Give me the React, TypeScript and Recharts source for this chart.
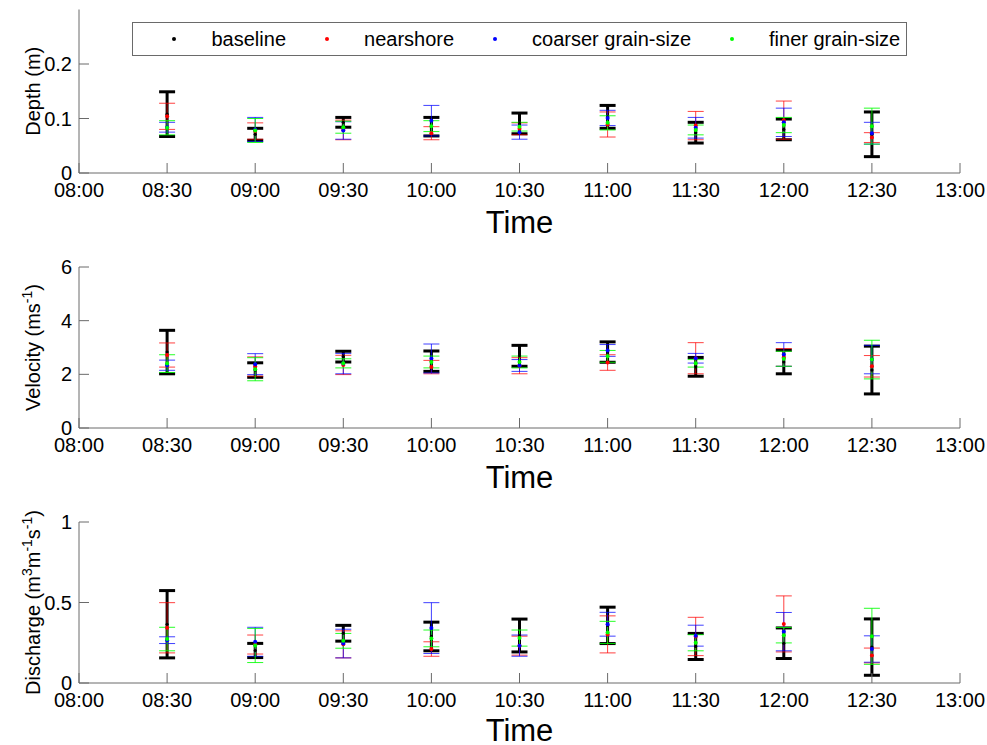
import React from 'react'
import { ScatterChart, Scatter, XAxis, YAxis, ErrorBar, Legend } from 'recharts'

const FONT = '"Liberation Sans", Arial, Helvetica, sans-serif'
const AXIS_COLOR = '#6a6a6a'

// sample times in minutes after midnight (08:30 ... 12:30)
const times = [510, 540, 570, 600, 630, 660, 690, 720, 750]
const xTicks = [480, 510, 540, 570, 600, 630, 660, 690, 720, 750, 780]
const xTickLabels = ['08:00', '08:30', '09:00', '09:30', '10:00', '10:30', '11:00', '11:30', '12:00', '12:30', '13:00']

const seriesNames = ['baseline', 'nearshore', 'coarser grain-size', 'finer grain-size']

// depth (m): mean and +/- spread
const depthBaseline = [0.108, 0.071, 0.093, 0.085, 0.091, 0.103, 0.074, 0.080, 0.071]
const depthBaselineErr = [0.041, 0.011, 0.009, 0.017, 0.019, 0.021, 0.019, 0.019, 0.041]
const depthNearshore = [0.104, 0.077, 0.079, 0.073, 0.081, 0.089, 0.087, 0.097, 0.065]
const depthNearshoreErr = [0.024, 0.015, 0.018, 0.012, 0.011, 0.023, 0.026, 0.035, 0.009]
const depthCoarser = [0.084, 0.080, 0.078, 0.096, 0.075, 0.101, 0.083, 0.093, 0.073]
const depthCoarserErr = [0.009, 0.022, 0.016, 0.028, 0.013, 0.014, 0.019, 0.026, 0.020]
const depthFiner = [0.083, 0.078, 0.084, 0.086, 0.085, 0.092, 0.079, 0.088, 0.086]
const depthFinerErr = [0.013, 0.022, 0.011, 0.010, 0.008, 0.013, 0.009, 0.014, 0.033]

// velocity (m/s)
const velBaseline = [2.83, 2.16, 2.66, 2.49, 2.69, 2.83, 2.28, 2.46, 2.16]
const velBaselineErr = [0.81, 0.27, 0.20, 0.38, 0.39, 0.38, 0.35, 0.44, 0.89]
const velNearshore = [2.72, 2.29, 2.35, 2.27, 2.32, 2.44, 2.60, 2.63, 2.30]
const velNearshoreErr = [0.45, 0.36, 0.36, 0.25, 0.30, 0.29, 0.58, 0.33, 0.40]
const velCoarser = [2.34, 2.38, 2.40, 2.59, 2.33, 2.89, 2.60, 2.74, 2.55]
const velCoarserErr = [0.19, 0.39, 0.38, 0.54, 0.22, 0.22, 0.18, 0.44, 0.53]
const velFiner = [2.40, 2.19, 2.41, 2.46, 2.46, 2.67, 2.41, 2.58, 2.55]
const velFinerErr = [0.33, 0.43, 0.17, 0.22, 0.22, 0.22, 0.14, 0.28, 0.72]

// discharge (m3 m-1 s-1)
const disBaseline = [0.365, 0.202, 0.309, 0.289, 0.295, 0.358, 0.227, 0.247, 0.223]
const disBaselineErr = [0.209, 0.044, 0.049, 0.089, 0.102, 0.113, 0.081, 0.095, 0.175]
const disNearshore = [0.343, 0.239, 0.240, 0.211, 0.232, 0.302, 0.289, 0.367, 0.171]
const disNearshoreErr = [0.156, 0.059, 0.084, 0.045, 0.059, 0.115, 0.119, 0.174, 0.046]
const disCoarser = [0.266, 0.256, 0.245, 0.341, 0.232, 0.365, 0.294, 0.319, 0.211]
const disCoarserErr = [0.021, 0.090, 0.089, 0.158, 0.066, 0.074, 0.065, 0.119, 0.082]
const disFiner = [0.273, 0.233, 0.262, 0.277, 0.279, 0.314, 0.250, 0.297, 0.290]
const disFinerErr = [0.073, 0.106, 0.046, 0.052, 0.050, 0.069, 0.050, 0.048, 0.174]

const STYLES = [
  { color: '#000000', width: 3, opacity: 1 },
  { color: '#ff0000', width: 1, opacity: 0.75 },
  { color: '#0000ff', width: 1, opacity: 0.75 },
  { color: '#00ff00', width: 1, opacity: 0.85 },
]

type Pt = { t: number; y: number; e: number }

function build(mean: number[], err: number[]): Pt[] {
  return times.map((t, i) => ({ t, y: mean[i], e: err[i] }))
}

type LabelPart = { text: string; sup?: boolean }

function YLabel({ viewBox, x, parts }: any) {
  const cy = viewBox ? viewBox.y + viewBox.height / 2 : 90
  let raised = false
  return (
    <text
      x={x}
      y={cy}
      transform={`rotate(-90 ${x} ${cy})`}
      textAnchor="middle"
      fontSize={20}
      fontFamily={FONT}
      fill="#000"
    >
      {parts.map((p: LabelPart, i: number) => {
        let dy = 0
        if (p.sup && !raised) { dy = -8; raised = true }
        else if (!p.sup && raised) { dy = 8; raised = false }
        return (
          <tspan key={i} dy={dy} fontSize={p.sup ? 14 : 20}>{p.text}</tspan>
        )
      })}
    </text>
  )
}

function TimeLabel({ viewBox, dy }: any) {
  const cx = viewBox ? viewBox.x + viewBox.width / 2 : 519
  const y = viewBox ? viewBox.y + dy : 232
  return (
    <text x={cx} y={y} textAnchor="middle" fontSize={31} fontFamily={FONT} fill="#000">Time</text>
  )
}

function LegendBox() {
  return (
    <div
      style={{
        display: 'flex',
        alignItems: 'center',
        height: 34,
        boxSizing: 'border-box',
        border: `1px solid ${AXIS_COLOR}`,
        background: '#fff',
        paddingLeft: 39,
        fontFamily: FONT,
        fontSize: 20,
        color: '#000',
        whiteSpace: 'nowrap',
      }}
    >
      {seriesNames.map((name, i) => (
        <div key={name} style={{ display: 'flex', alignItems: 'center', marginRight: 38.5 }}>
          <span style={{ display: 'inline-block', width: 4, height: 4, borderRadius: 2, background: STYLES[i].color }} />
          <span style={{ marginLeft: 35.5, lineHeight: '22px' }}>{name}</span>
        </div>
      ))}
    </div>
  )
}

interface PanelProps {
  top: number
  height: number
  plotTop: number
  timeDy: number
  domain: [number, number]
  yTicks: number[]
  labelX: number
  label: LabelPart[]
  data: Pt[][]
  legend?: boolean
}

function Panel({ top, height, plotTop, timeDy, domain, yTicks, labelX, label, data, legend }: PanelProps) {
  // plot area always ends 173px below the chart's top edge
  const axisHeight = height - 173 - 2
  return (
    <div style={{ position: 'absolute', left: 0, top }}>
      <ScatterChart width={987} height={height} margin={{ top: plotTop, right: 27, bottom: 2, left: 0 }}>
        <XAxis
          type="number"
          dataKey="t"
          domain={[480, 780]}
          ticks={xTicks}
          interval={0}
          tickFormatter={(v: number) => xTickLabels[xTicks.indexOf(v)]}
          height={axisHeight}
          stroke={AXIS_COLOR}
          tickSize={-10}
          tickMargin={20}
          tick={{ fill: '#000', fontSize: 20, fontFamily: FONT }}
          label={<TimeLabel dy={timeDy} />}
        />
        <YAxis
          type="number"
          dataKey="y"
          domain={domain}
          ticks={yTicks}
          interval={0}
          width={79}
          stroke={AXIS_COLOR}
          tickSize={-10}
          tickMargin={17}
          tick={{ fill: '#000', fontSize: 20, fontFamily: FONT }}
          label={<YLabel x={labelX} parts={label} />}
        />
        {legend && (
          <Legend
            layout="horizontal"
            verticalAlign="middle"
            align="center"
            content={() => <LegendBox />}
            wrapperStyle={{ left: 132, top: 22, width: 775, height: 34 }}
          />
        )}
        {data.map((pts, i) => (
          <Scatter
            key={seriesNames[i]}
            name={seriesNames[i]}
            data={pts}
            isAnimationActive={false}
            shape={(p: any) => <circle cx={p.cx} cy={p.cy} r={i === 0 ? 1.6 : 2} fill={STYLES[i].color} />}
          >
            <ErrorBar
              dataKey="e"
              direction="y"
              width={8}
              stroke={STYLES[i].color}
              strokeWidth={STYLES[i].width}
              strokeOpacity={STYLES[i].opacity}
              isAnimationActive={false}
            />
          </Scatter>
        ))}
      </ScatterChart>
    </div>
  )
}

export default function App() {
  const depth = [
    build(depthBaseline, depthBaselineErr),
    build(depthNearshore, depthNearshoreErr),
    build(depthCoarser, depthCoarserErr),
    build(depthFiner, depthFinerErr),
  ]
  const velocity = [
    build(velBaseline, velBaselineErr),
    build(velNearshore, velNearshoreErr),
    build(velCoarser, velCoarserErr),
    build(velFiner, velFinerErr),
  ]
  const discharge = [
    build(disBaseline, disBaselineErr),
    build(disNearshore, disNearshoreErr),
    build(disCoarser, disCoarserErr),
    build(disFiner, disFinerErr),
  ]

  return (
    <div style={{ position: 'absolute', left: 0, top: 0, width: 987, height: 745, background: '#fff', overflow: 'hidden' }}>
      <Panel
        top={0}
        height={250}
        plotTop={9.5}
        timeDy={59.5}
        domain={[0, 0.3]}
        yTicks={[0, 0.1, 0.2]}
        labelX={31}
        label={[{ text: 'Depth (m)' }]}
        data={depth}
        legend
      />
      <Panel
        top={255}
        height={250}
        plotTop={12}
        timeDy={59.5}
        domain={[0, 6]}
        yTicks={[0, 2, 4, 6]}
        labelX={49.5}
        label={[{ text: 'Velocity (ms' }, { text: '-1', sup: true }, { text: ')' }]}
        data={velocity}
      />
      <Panel
        top={510}
        height={235}
        plotTop={12}
        timeDy={57.5}
        domain={[0, 1]}
        yTicks={[0, 0.5, 1]}
        labelX={32.5}
        label={[
          { text: 'Discharge (m' },
          { text: '3', sup: true },
          { text: 'm' },
          { text: '-1', sup: true },
          { text: 's' },
          { text: '-1', sup: true },
          { text: ')' },
        ]}
        data={discharge}
      />
    </div>
  )
}
